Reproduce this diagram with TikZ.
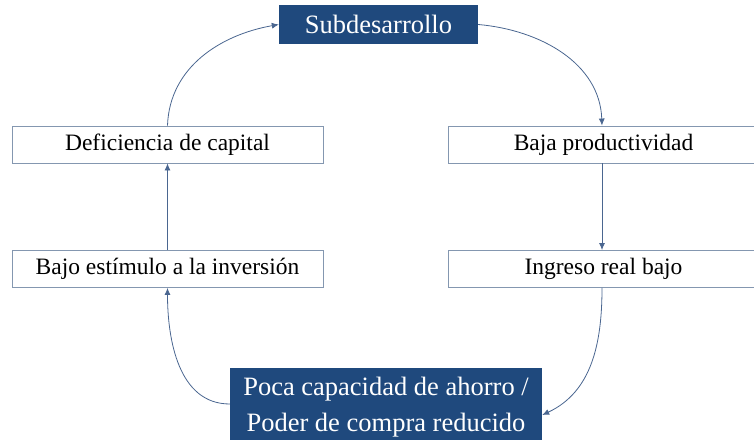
\documentclass[tikz,border=0pt]{standalone}
\usepackage{fontspec}
\setmainfont{Liberation Serif}
\usetikzlibrary{arrows.meta}
\definecolor{darkbox}{HTML}{1F497D}
\definecolor{boxline}{HTML}{8497B0}
\definecolor{conn}{HTML}{4A6690}
\begin{document}
\begin{tikzpicture}[x=1pt,y=1pt,
  lightbox/.style={draw=boxline, line width=0.9pt, fill=white, minimum width=311pt, minimum height=37pt, inner sep=0pt, font=\fontsize{23.5}{28}\selectfont, text=black},
  darkbox/.style={fill=darkbox, draw=none, inner sep=0pt, text=white, font=\fontsize{26.5}{36}\selectfont, align=center},
  link/.style={draw=conn, line width=0.8pt, -{Latex[length=7pt,width=6pt]}}]
\useasboundingbox (0,0) rectangle (754,439);
\node[darkbox, minimum width=199pt, minimum height=39pt] (sub) at (378.5,414.5) {Subdesarrollo};
\node[lightbox] (def) at (167.5,294.5) {Deficiencia de capital};
\node[lightbox] (baj) at (167.5,170) {Bajo estímulo a la inversión};
\node[lightbox] (prod) at (603.5,294.5) {Baja productividad};
\node[lightbox] (ing) at (603.5,170) {Ingreso real bajo};
\node[darkbox, minimum width=312pt, minimum height=78pt] (poca) at (386,32) {Poca capacidad de ahorro /\\Poder de compra reducido};
\draw[link] (def.north) to[out=88,in=190] (sub.west);
\draw[link] (sub.east) to[out=-5,in=92] ([xshift=-1.5pt]prod.north);
\draw[link] ([xshift=-1.5pt]prod.south) -- ([xshift=-1.5pt]ing.north);
\draw[link] ([xshift=-1.5pt]ing.south) to[out=-90,in=25] ([yshift=-8pt]poca.east);
\draw[link] ([yshift=3pt]poca.west) to[out=180,in=-90] (baj.south);
\draw[link] (baj.north) -- (def.south);
\end{tikzpicture}
\end{document}
